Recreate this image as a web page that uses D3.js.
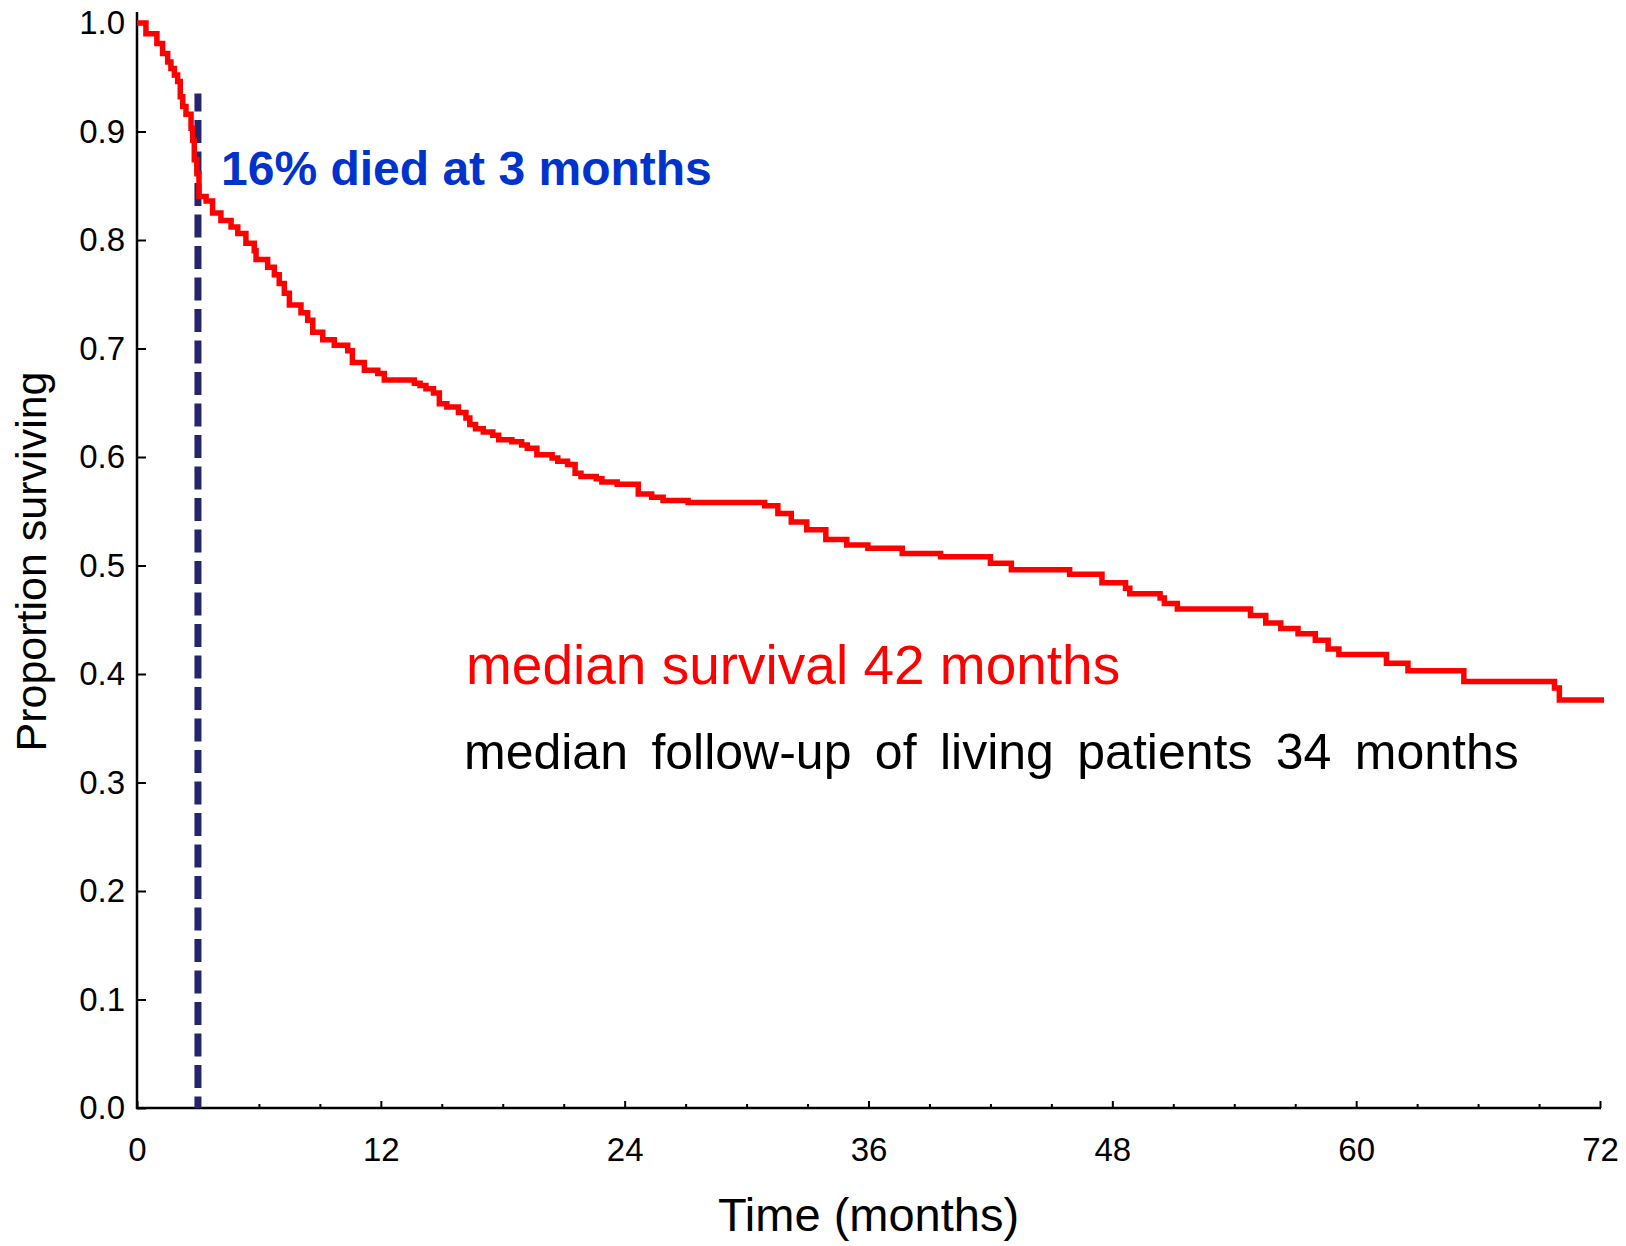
<!DOCTYPE html>
<html>
<head>
<meta charset="utf-8">
<script src="https://cdn.jsdelivr.net/npm/d3@7"></script>
<style>
  html, body { margin: 0; padding: 0; background: #ffffff; }
  svg { display: block; }
  text { font-family: "Liberation Sans", Arial, sans-serif; }
</style>
</head>
<body>
<script>
// Kaplan-Meier survival estimate: each entry is the time (months) at which
// the survival proportion steps down to the matching value.
const months = [
  0, 0.44, 0.98, 1.26, 1.51, 1.67, 1.84, 2.00, 2.13, 2.25, 2.41, 2.66, 2.74, 2.82, 2.95, 3.05,
  3.40, 3.72, 4.13, 4.63, 4.96, 5.36, 5.77, 5.86, 6.43, 6.76, 7.00, 7.25, 7.50, 8.07, 8.40, 8.65,
  9.14, 9.71, 10.37, 10.60, 11.19, 11.85, 12.17, 13.65, 13.93, 14.22, 14.59, 14.88, 15.25, 15.82,
  16.19, 16.38, 16.66, 17.04, 17.51, 17.80, 18.45, 18.93, 19.21, 19.68, 20.43, 20.71, 21.19, 21.56,
  21.85, 22.60, 22.88, 23.63, 24.67, 25.33, 25.89, 27.12, 30.89, 31.54, 32.20, 32.96, 33.90, 34.93,
  35.97, 37.66, 39.55, 42.00, 43.03, 45.90, 47.49, 48.65, 48.86, 50.35, 50.56, 51.20, 54.80, 55.55,
  56.29, 57.14, 57.99, 58.62, 59.15, 61.49, 62.55, 65.30, 69.76, 70.00, 72.20
];
const survival = [
  1.000, 0.990, 0.981, 0.972, 0.964, 0.958, 0.952, 0.946, 0.932, 0.923, 0.916, 0.903, 0.892, 0.874, 0.861, 0.840,
  0.836, 0.825, 0.818, 0.812, 0.806, 0.797, 0.790, 0.782, 0.775, 0.768, 0.760, 0.751, 0.740, 0.733, 0.726, 0.715,
  0.708, 0.703, 0.698, 0.687, 0.680, 0.677, 0.671, 0.668, 0.666, 0.663, 0.659, 0.649, 0.646, 0.641,
  0.636, 0.630, 0.626, 0.623, 0.620, 0.616, 0.614, 0.611, 0.608, 0.602, 0.599, 0.596, 0.593, 0.585,
  0.582, 0.580, 0.577, 0.575, 0.566, 0.563, 0.560, 0.558, 0.555, 0.548, 0.540, 0.533, 0.524, 0.519,
  0.516, 0.511, 0.508, 0.502, 0.496, 0.492, 0.484, 0.479, 0.474, 0.470, 0.465, 0.460, 0.454, 0.447,
  0.442, 0.437, 0.431, 0.423, 0.418, 0.410, 0.403, 0.393, 0.387, 0.376, 0.376
];

// Axis ticks
const xTickValues = [0, 12, 24, 36, 48, 60, 72];
const xMinorTickValues = [3, 6, 9, 15, 18, 21, 27, 30, 33, 39, 42, 45, 51, 54, 57, 63, 66, 69];
const yTickValues = [0.0, 0.1, 0.2, 0.3, 0.4, 0.5, 0.6, 0.7, 0.8, 0.9, 1.0];

// Reference line: deaths within the first 3 months
const earlyMonth = 3;
const earlyLineTop = 0.935;

// Annotation texts
const earlyLabel = "16% died at 3 months";
const medianLabel = "median survival 42 months";
const followLabel = "median follow-up of living patients 34 months";
const xTitle = "Time (months)";
const yTitle = "Proportion surviving";

const W = 1626, H = 1246;
const svg = d3.select("body").append("svg")
  .attr("width", W).attr("height", H)
  .attr("viewBox", `0 0 ${W} ${H}`);

const x = d3.scaleLinear().domain([0, 72]).range([137, 1600]);
const y = d3.scaleLinear().domain([0, 1]).range([1108, 23]);

// Axes
const yAxis = d3.axisLeft(y)
  .tickValues(yTickValues)
  .tickSize(-9)
  .tickPadding(12)
  .tickFormat(d3.format(".1f"));

const xAxis = d3.axisBottom(x)
  .tickValues(xTickValues)
  .tickSize(-7)
  .tickPadding(30)
  .tickFormat(d3.format("d"));

const xMinor = d3.axisBottom(x)
  .tickValues(xMinorTickValues)
  .tickSize(-4)
  .tickFormat("");

const gy = svg.append("g").attr("transform", `translate(${x(0)},0)`).call(yAxis);
const gx = svg.append("g").attr("transform", `translate(0,${y(0)})`).call(xAxis);
const gxm = svg.append("g").attr("transform", `translate(0,${y(0)})`).call(xMinor);

[gy, gx, gxm].forEach(g => {
  g.select(".domain").remove();
  g.selectAll(".tick line").attr("stroke", "#000").attr("stroke-width", 2);
  g.selectAll(".tick text")
    .attr("fill", "#000")
    .style("font-size", "33px")
    .style("font-family", "'Liberation Sans', Arial, sans-serif");
});

// Axis lines (the vertical axis runs a little above 1.0)
svg.append("line")
  .attr("x1", x(0)).attr("x2", x(0))
  .attr("y1", y(1) - 11).attr("y2", y(0) + 1)
  .attr("stroke", "#000").attr("stroke-width", 2.5);
svg.append("line")
  .attr("x1", x(0) - 1).attr("x2", x(72) + 1)
  .attr("y1", y(0)).attr("y2", y(0))
  .attr("stroke", "#000").attr("stroke-width", 2.5);

// Axis titles
svg.append("text")
  .attr("x", (x(0) + x(72)) / 2)
  .attr("y", 1231)
  .attr("text-anchor", "middle")
  .style("font-size", "47px")
  .attr("fill", "#000")
  .text(xTitle);

svg.append("text")
  .attr("transform", `translate(46,${y(0.5) - 4}) rotate(-90)`)
  .attr("text-anchor", "middle")
  .style("font-size", "43px")
  .attr("fill", "#000")
  .text(yTitle);

// Dashed reference line at 3 months
svg.append("line")
  .attr("x1", x(earlyMonth)).attr("x2", x(earlyMonth))
  .attr("y1", y(earlyLineTop)).attr("y2", y(0))
  .attr("stroke", "#25256b")
  .attr("stroke-width", 7)
  .attr("stroke-dasharray", "23,8.5")
  .attr("stroke-dashoffset", 5);

// Survival curve
const kmData = months.map((m, i) => ({ m, s: survival[i] }));
const stepLine = d3.line()
  .x(d => x(d.m))
  .y(d => y(d.s))
  .curve(d3.curveStepAfter);

svg.append("path")
  .datum(kmData)
  .attr("d", stepLine)
  .attr("fill", "none")
  .attr("stroke", "#ff0000")
  .attr("stroke-width", 5.5)
  .attr("stroke-linejoin", "miter");

// Annotations
svg.append("text")
  .attr("x", 221).attr("y", 185)
  .style("font-size", "48px")
  .style("font-weight", "bold")
  .attr("fill", "#0033cc")
  .text(earlyLabel);

svg.append("text")
  .attr("x", 466).attr("y", 684)
  .style("font-size", "55px")
  .attr("fill", "#ff0000")
  .text(medianLabel);

svg.append("text")
  .attr("x", 464).attr("y", 769)
  .style("font-size", "50px")
  .style("word-spacing", "9.5px")
  .attr("fill", "#000")
  .text(followLabel);
</script>
</body>
</html>
